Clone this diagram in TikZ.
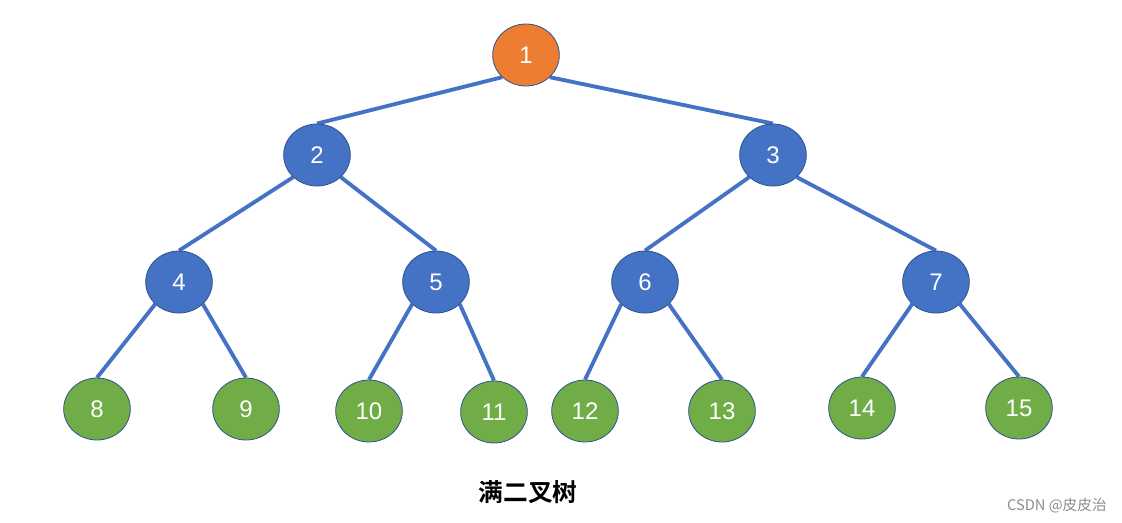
\documentclass[tikz,border=0pt]{standalone}
\usepackage{fontspec}
\usetikzlibrary{shapes.geometric,backgrounds}
\setmainfont{Liberation Sans}
\newfontfamily\cjk{Noto Sans CJK SC}
\newfontfamily\cjkbold{Noto Sans CJK SC Bold}
\definecolor{ofOrange}{HTML}{ED7D31}
\definecolor{ofBlue}{HTML}{4472C4}
\definecolor{ofGreen}{HTML}{70AD47}
\definecolor{ofBorder}{HTML}{2F528F}
\begin{document}
\begin{tikzpicture}[x=0.75pt,y=-0.75pt,
  tn/.style={ellipse,draw=ofBorder,line width=0.6pt,minimum width=50pt,minimum height=46.5pt,inner sep=0pt,text=white,font=\fontsize{18}{18}\selectfont},
  orangenode/.style={tn,fill=ofOrange},
  bluenode/.style={tn,fill=ofBlue},
  greennode/.style={tn,fill=ofGreen},
  link/.style={draw=ofBlue,line width=2.9pt}]
\useasboundingbox (0,0) rectangle (1122,522);
\node[orangenode] (n1) at (526,55) {1};
\node[bluenode] (n2) at (317,155) {2};
\node[bluenode] (n3) at (773,155) {3};
\node[bluenode] (n4) at (179,282) {4};
\node[bluenode] (n5) at (436,282) {5};
\node[bluenode] (n6) at (645,282) {6};
\node[bluenode] (n7) at (936,282) {7};
\node[greennode] (n8) at (97,409) {8};
\node[greennode] (n9) at (246,409) {9};
\node[greennode] (n10) at (369,411) {10};
\node[greennode] (n11) at (494,412) {11};
\node[greennode] (n12) at (585,411) {12};
\node[greennode] (n13) at (722,411) {13};
\node[greennode] (n14) at (862,408) {14};
\node[greennode] (n15) at (1019,408) {15};
\begin{scope}[on background layer]
\draw[link] (n1.south west) -- (n2.north);
\draw[link] (n1.south east) -- (n3.north);
\draw[link] (n2.south west) -- (n4.north);
\draw[link] (n2.south east) -- (n5.north);
\draw[link] (n3.south west) -- (n6.north);
\draw[link] (n3.south east) -- (n7.north);
\draw[link] (n4.south west) -- (n8.north);
\draw[link] (n4.south east) -- (n9.north);
\draw[link] (n5.south west) -- (n10.north);
\draw[link] (n5.south east) -- (n11.north);
\draw[link] (n6.south west) -- (n12.north);
\draw[link] (n6.south east) -- (n13.north);
\draw[link] (n7.south west) -- (n14.north);
\draw[link] (n7.south east) -- (n15.north);
\end{scope}
\node[font=\cjkbold\fontsize{18.5}{18.5}\selectfont] (title) at (528,492) {满二叉树};
\node[font=\cjk\fontsize{11}{11}\selectfont,text=black!45,anchor=east,inner sep=0pt] (mark) at (1107,506) {CSDN @皮皮治};
\end{tikzpicture}
\end{document}
